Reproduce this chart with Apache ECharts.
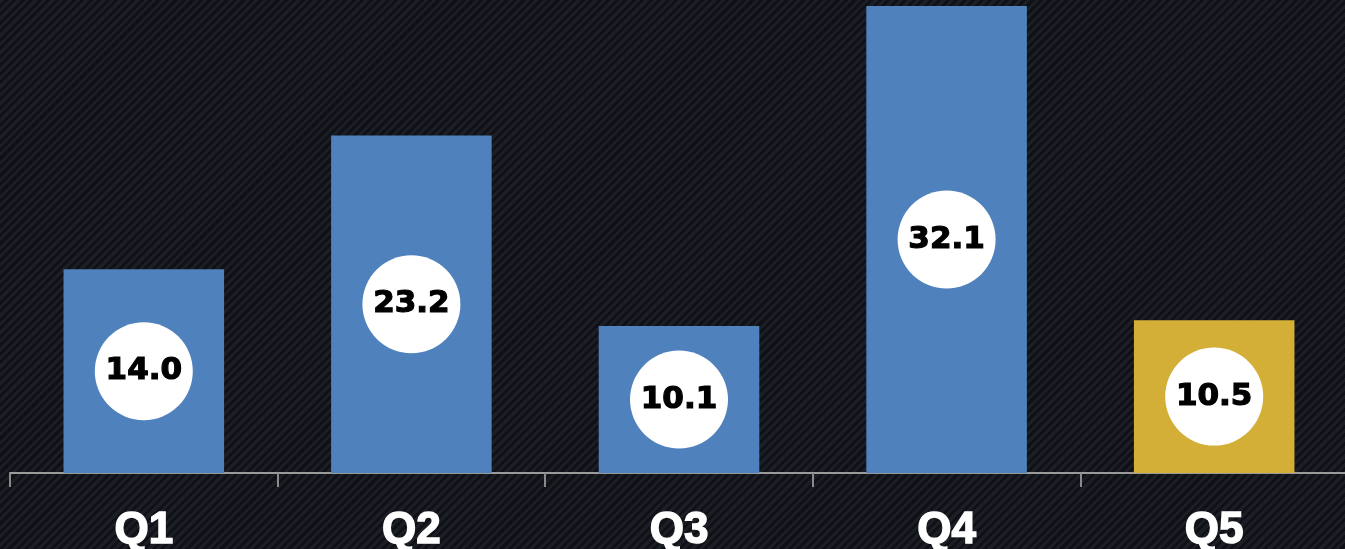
<!DOCTYPE html>
<html>
<head>
<meta charset="utf-8">
<script src="https://cdn.jsdelivr.net/npm/echarts@6/dist/echarts.min.js"></script>
<style>
html,body{margin:0;padding:0;width:1345px;height:549px;overflow:hidden;
background-color:#14161c;
background-image:repeating-linear-gradient(135deg,#1b1e25 0px,#1b1e25 3px,#0f1116 3px,#0f1116 6px);}
#c{width:1345px;height:549px;}
</style>
</head>
<body>
<div id="c"></div>
<script>
const categories = ['Q1','Q2','Q3','Q4','Q5'];
const values = [14.0, 23.2, 10.1, 32.1, 10.5];
const barColors = ['#4f81bd','#4f81bd','#4f81bd','#4f81bd','#d4af37'];

const chart = echarts.init(document.getElementById('c'), null, {renderer:'canvas'});
chart.setOption({
  backgroundColor: 'transparent',
  animation: false,
  grid: {left: 10, right: -3, top: 6, bottom: 76, containLabel: false, outerBoundsMode: 'none'},
  xAxis: {
    type: 'category',
    data: categories,
    axisLine: {lineStyle: {color: '#9a9a9a', width: 2}},
    axisTick: {show: true, length: 14, lineStyle: {color: '#8a8a8a', width: 2}},
    axisLabel: {
      color: '#ffffff', fontSize: 44, fontWeight: 'bold',
      fontFamily: 'Liberation Sans', margin: 36,
      textBorderColor: '#ffffff', textBorderWidth: 1.5
    }
  },
  yAxis: {
    type: 'value', min: 0, max: 32.1,
    show: false, splitLine: {show: false}
  },
  series: [{
    type: 'bar',
    barWidth: '60%',
    data: values.map((v, i) => ({value: v, itemStyle: {color: barColors[i]}})),
    label: {
      show: true,
      position: 'inside',
      formatter: p => p.value.toFixed(1),
      backgroundColor: '#ffffff',
      width: 98, height: 98, lineHeight: 98,
      borderRadius: 49,
      align: 'center', verticalAlign: 'middle',
      color: '#000000', fontSize: 31, fontWeight: 'bold',
      fontFamily: 'DejaVu Sans',
      textBorderColor: '#000000', textBorderWidth: 1.2
    }
  }]
});
</script>
</body>
</html>
